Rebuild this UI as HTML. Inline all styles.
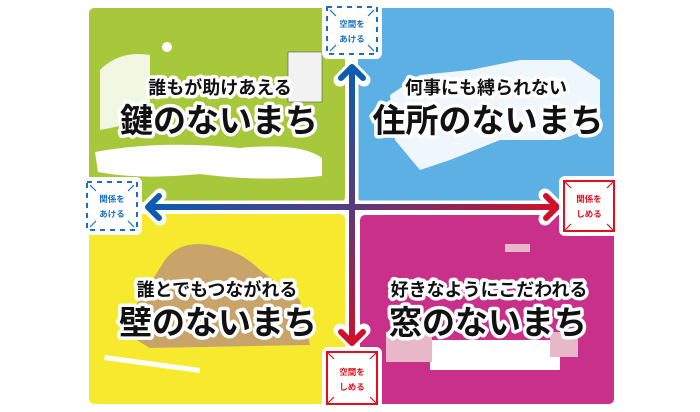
<!DOCTYPE html>
<html><head><meta charset="utf-8"><style>
html,body{margin:0;padding:0;background:#fff;}
svg{display:block}
text{font-family:"Liberation Sans","Noto Sans CJK JP",sans-serif;font-weight:bold;}
.t{stroke:#fff;stroke-width:7px;paint-order:stroke;stroke-linejoin:round;fill:#111;}
</style></head><body>
<svg width="700" height="412" viewBox="0 0 700 412" xmlns="http://www.w3.org/2000/svg">
<defs>
<linearGradient id="gh" x1="145" y1="0" x2="560" y2="0" gradientUnits="userSpaceOnUse">
<stop offset="0" stop-color="#0a5db0"/><stop offset="0.5" stop-color="#5a3a7e"/><stop offset="1" stop-color="#d0102a"/></linearGradient>
<linearGradient id="gv" x1="0" y1="65" x2="0" y2="345" gradientUnits="userSpaceOnUse">
<stop offset="0" stop-color="#0a5db0"/><stop offset="0.5" stop-color="#5a3a7e"/><stop offset="1" stop-color="#d0102a"/></linearGradient>
</defs>
<rect x="89" y="8" width="256" height="194" rx="5" fill="#a8c83c"/>
<rect x="358" y="8" width="256" height="194" rx="5" fill="#5cb0e4"/>
<rect x="89" y="214" width="256" height="190" rx="5" fill="#f7ea2e"/>
<rect x="360" y="215" width="254" height="189" rx="5" fill="#c8308a"/>
<!-- illustration hints -->
<path d="M95 152 Q160 140 240 148 Q300 142 322 158 L322 176 Q260 182 200 174 Q140 180 98 172 Z" fill="#fff"/>
<path d="M100 70 Q120 50 150 55 L150 120 L100 130 Z" fill="#fff" opacity="0.85"/>
<rect x="288" y="52" width="34" height="50" fill="#f2f2f2" stroke="#555" stroke-width="0.6"/>
<circle cx="167" cy="47" r="5" fill="#fff"/>
<path d="M390 95 L420 75 L470 70 L520 60 L570 60 L600 80 L600 125 L560 140 L500 140 L450 160 L420 170 L395 140 Z" fill="#fff" opacity="0.9"/>
<path d="M165 260 Q180 240 210 245 Q240 250 260 270 L300 300 L310 345 L150 348 L120 330 Z" fill="#c9a46a"/>
<path d="M105 355 L200 368 L200 373 L104 360 Z" fill="#fff"/>
<rect x="430" y="340" width="130" height="30" fill="#fff"/>
<rect x="386" y="332" width="46" height="30" fill="#e8b8c8"/>
<rect x="550" y="332" width="28" height="25" fill="#e8b8c8"/>
<rect x="505" y="244" width="25" height="8" fill="#e8b8c8"/>
<!-- arrows -->
<g stroke="#fff" stroke-width="13" fill="none" stroke-linecap="round" stroke-linejoin="round">
<line x1="352" y1="68" x2="352" y2="342"/><line x1="148" y1="207" x2="557" y2="207"/>
<polyline points="340,80 352,68 364,80"/><polyline points="340,330 352,342 364,330"/>
<polyline points="160,195 148,207 160,219"/><polyline points="545,195 557,207 545,219"/>
</g>
<line x1="352" y1="68" x2="352" y2="342" stroke="url(#gv)" stroke-width="6"/>
<line x1="148" y1="207" x2="557" y2="207" stroke="url(#gh)" stroke-width="6"/>
<g fill="none" stroke-width="6" stroke-linecap="round" stroke-linejoin="round">
<polyline points="341,78 352,67 363,78" stroke="#0a5db0"/>
<polyline points="341,332 352,343 363,332" stroke="#d0102a"/>
<polyline points="159,196 148,207 159,218" stroke="#0a5db0"/>
<polyline points="546,196 557,207 546,218" stroke="#d0102a"/>
</g>
<!-- label boxes -->
<g font-size="8.5" text-anchor="middle">
<rect x="322" y="2" width="60" height="57" rx="6" fill="#fff"/>
<rect x="327" y="7" width="50" height="47" fill="none" stroke="#1a6fc0" stroke-width="2" stroke-dasharray="5,5"/>
<g stroke="#1a6fc0" stroke-width="1.2"><line x1="330" y1="10" x2="336" y2="16"/><line x1="374" y1="10" x2="368" y2="16"/><line x1="330" y1="51" x2="336" y2="45"/><line x1="374" y1="51" x2="368" y2="45"/></g>
<text x="352" y="27" fill="#1a6fc0">空間を</text><text x="352" y="42" fill="#1a6fc0">あける</text>
<rect x="82" y="177" width="60" height="58" rx="6" fill="#fff"/>
<rect x="87" y="182" width="50" height="48" fill="none" stroke="#1a6fc0" stroke-width="2" stroke-dasharray="5,5"/>
<g stroke="#1a6fc0" stroke-width="1.2"><line x1="90" y1="185" x2="96" y2="191"/><line x1="134" y1="185" x2="128" y2="191"/><line x1="90" y1="227" x2="96" y2="221"/><line x1="134" y1="227" x2="128" y2="221"/></g>
<text x="112" y="202" fill="#1a6fc0">関係を</text><text x="112" y="217" fill="#1a6fc0">あける</text>
<rect x="559" y="176" width="60" height="60" rx="6" fill="#fff"/>
<rect x="564" y="181" width="50" height="50" fill="none" stroke="#e0101e" stroke-width="2"/>
<g stroke="#e0101e" stroke-width="1.2"><line x1="564" y1="181" x2="571" y2="188"/><line x1="614" y1="181" x2="607" y2="188"/><line x1="564" y1="231" x2="571" y2="224"/><line x1="614" y1="231" x2="607" y2="224"/></g>
<text x="589" y="202" fill="#e0101e">関係を</text><text x="589" y="217" fill="#e0101e">しめる</text>
<rect x="322" y="347" width="60" height="62" rx="6" fill="#fff"/>
<rect x="327" y="352" width="50" height="52" fill="none" stroke="#e0101e" stroke-width="2"/>
<g stroke="#e0101e" stroke-width="1.2"><line x1="327" y1="352" x2="334" y2="359"/><line x1="377" y1="352" x2="370" y2="359"/><line x1="327" y1="404" x2="334" y2="397"/><line x1="377" y1="404" x2="370" y2="397"/></g>
<text x="352" y="375" fill="#e0101e">空間を</text><text x="352" y="390" fill="#e0101e">しめる</text>
</g>
<g text-anchor="middle">
<text class="t" x="220" y="94" font-size="18">誰もが助けあえる</text>
<text class="t" x="219" y="132" font-size="33" stroke-width="8">鍵のないまち</text>
<text class="t" x="486" y="94" font-size="18">何事にも縛られない</text>
<text class="t" x="488" y="132" font-size="33" stroke-width="8">住所のないまち</text>
<text class="t" x="217" y="296" font-size="18">誰とでもつながれる</text>
<text class="t" x="218" y="334" font-size="33" stroke-width="8">壁のないまち</text>
<text class="t" x="489" y="296" font-size="18">好きなようにこだわれる</text>
<text class="t" x="488" y="334" font-size="33" stroke-width="8">窓のないまち</text>
</g>
</svg>
</body></html>
